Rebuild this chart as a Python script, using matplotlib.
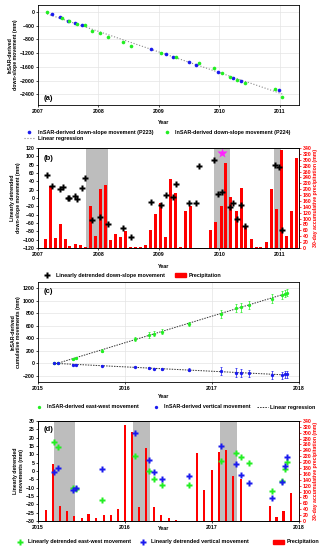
import numpy as np
import matplotlib
matplotlib.use("Agg")
import matplotlib.pyplot as plt
from matplotlib.lines import Line2D
from matplotlib.patches import Patch

plt.rcParams['font.family'] = ['Liberation Sans', 'DejaVu Sans']
plt.rcParams['font.weight'] = 'bold'
plt.rcParams['axes.labelweight'] = 'bold'
plt.rcParams['font.size'] = 3.7
plt.rcParams['axes.linewidth'] = 0.6
plt.rcParams['xtick.major.width'] = 0.5
plt.rcParams['ytick.major.width'] = 0.5
plt.rcParams['xtick.major.size'] = 1.5
plt.rcParams['ytick.major.size'] = 1.5
plt.rcParams['xtick.major.pad'] = 1.5
plt.rcParams['ytick.major.pad'] = 1.0

# (a) InSAR down-slope movement 2007-2011
p223_t = [2007.23, 2007.36, 2007.49, 2007.61, 2007.73, 2008.87, 2009.11, 2009.24,
          2009.50, 2009.62, 2009.98, 2010.23, 2010.36, 2010.99]
p223_v = [-77, -164, -260, -328, -386, -1089, -1224, -1301, -1465, -1542, -1745,
          -1918, -2005, -2284]
p224_t = [2007.15, 2007.40, 2007.52, 2007.65, 2007.78, 2007.90, 2008.03, 2008.15,
          2008.40, 2008.53, 2009.03, 2009.29, 2009.66, 2009.91, 2010.04, 2010.17,
          2010.29, 2010.42, 2010.92, 2011.04]
p224_v = [-10, -193, -280, -366, -386, -559, -627, -723, -887, -983, -1205, -1301,
          -1484, -1629, -1773, -1889, -1985, -2081, -2236, -2467]

# (b) detrended down-slope movement + precipitation
det_t = [2007.15, 2007.23, 2007.36, 2007.41, 2007.49, 2007.52, 2007.61, 2007.65,
         2007.73, 2007.78, 2007.90, 2008.03, 2008.15, 2008.40, 2008.53, 2008.87,
         2009.03, 2009.11, 2009.24, 2009.29, 2009.50, 2009.62, 2009.66, 2009.91,
         2009.98, 2010.04, 2010.17, 2010.23, 2010.29, 2010.36, 2010.42, 2010.92,
         2010.99, 2011.04]
det_v = [54, 28, 22, 26, 0, 0, 4, -2, 24, 48, -52, -46, -62, -73, -93, -10, -16, 6,
         3, 34, -13, -12, 76, 90, 10, 14, -22, -13, -50, -16, -66, 78, 75, -76]
rain_b_t = [2007.11, 2007.19, 2007.28, 2007.36, 2007.44, 2007.52, 2007.61, 2007.69,
            2007.77, 2007.86, 2007.94, 2008.02, 2008.11, 2008.19, 2008.27, 2008.35,
            2008.44, 2008.52, 2008.60, 2008.69, 2008.77, 2008.85, 2008.93, 2009.02,
            2009.10, 2009.18, 2009.27, 2009.35, 2009.43, 2009.52, 2009.85, 2009.93,
            2010.02, 2010.10, 2010.18, 2010.27, 2010.35, 2010.43, 2010.52, 2010.60,
            2010.68, 2010.77, 2010.85, 2010.94, 2011.02, 2011.10, 2011.19, 2011.27]
rain_b = [32, 210, 34, 80, 32, 8, 15, 11, 3, 144, 40, 201, 213, 27, 49, 39, 59, 2, 2,
          2, 9, 62, 116, 153, 37, 233, 187, 3, 125, 142, 61, 87, 142, 290, 175, 127,
          205, 70, 32, 5, 5, 19, 202, 133, 334, 42, 127, 305]
wet_b = [(2007.79, 2008.15), (2009.91, 2010.17), (2010.91, 2011.02)]
star_b = (2010.04, 108)

# (c) cumulative movements 2015-2018
c_t = [2015.18, 2015.23, 2015.40, 2015.44, 2015.73, 2016.11, 2016.28, 2016.33,
       2016.43, 2016.73, 2017.10, 2017.27, 2017.33, 2017.42, 2017.69, 2017.80,
       2017.84, 2017.86]
ew_v = [0, 10, 64, 80, 202, 382, 451, 467, 504, 621, 790, 881, 897, 934, 1034, 1087,
        1114, 1130]
ew_err = [8, 8, 12, 12, 22, 30, 45, 40, 38, 32, 64, 70, 72, 68, 68, 65, 62, 60]
vt_v = [0, 0, -27, -27, -37, -53, -74, -85, -95, -106, -122, -149, -159, -164, -186,
        -191, -180, -180]
vt_err = [5, 5, 8, 8, 10, 14, 14, 14, 16, 25, 60, 65, 68, 62, 60, 58, 62, 62]

# (d) detrended movements + precipitation
ew_det = [17.2, 14.6, -10, -10.8, -17.4, 9.2, 0, -4.6, -8.4, -8.4, 6, 10.6, 8.4, 4.6,
          -12.2, -6, 1, 5.2]
vt_det = [-0.8, 1.8, -11.6, -10, 1.4, 23, 6.6, -0.6, -4.8, -2.8, 14.8, 4, -2.4, -7.2,
          -16.4, -6.6, 2.8, 8.2]
rain_d_t = [2015.09, 2015.17, 2015.25, 2015.33, 2015.41, 2015.50, 2015.58, 2015.67,
            2015.755, 2015.835, 2015.92, 2016.00, 2016.08, 2016.165, 2016.245, 2016.33,
            2016.41, 2016.50, 2016.58, 2016.83, 2016.91, 2017.00, 2017.08, 2017.16,
            2017.24, 2017.33, 2017.66, 2017.74, 2017.82, 2017.905]
rain_d = [38, 193, 52, 34, 17, 9, 24, 9, 19, 19, 40, 326, 301, 48, 249, 48, 20, 11, 3,
          232, 107, 173, 233, 241, 154, 143, 52, 15, 33, 96]
wet_d = [(2015.18, 2015.43), (2016.09, 2016.29), (2017.09, 2017.29)]

GREEN = '#22ee22'
BLUE = '#1a1aee'
RED = '#ff0000'
LEG = 3.9


def leg(handles, labels, x, y, **kw):
    fig.legend(handles, labels, loc='center left', bbox_to_anchor=(x, 1 - y / 550),
               frameon=False, fontsize=LEG, handlelength=2.0, handletextpad=0.5,
               borderpad=0, **kw)


fig = plt.figure(figsize=(3.28, 5.5), dpi=100)
L, W = 0.116, 0.796

# ---------- (a)
ax = fig.add_axes([L, 0.809, W, 0.182])
ax.grid(True, color='#e4e4e4', lw=0.5)
ax.set_axisbelow(True)
all_t = np.array(p223_t + p224_t)
all_v = np.array(p223_v + p224_v)
k, b0 = np.polyfit(all_t, all_v, 1)
xx = np.array([min(all_t), max(all_t)])
ax.plot(xx, k * xx + b0, ls=':', color='#888888', lw=0.8)
ax.plot(p223_t, p223_v, 'o', color=BLUE, ms=2.6, mec='none')
ax.plot(p224_t, p224_v, 'o', color=GREEN, ms=2.6, mec='none')
ax.set_xlim(2007, 2011.32)
ax.set_ylim(-2710, 200)
ax.set_xticks([2007, 2008, 2009, 2010, 2011])
ax.set_yticks(range(-2400, 1, 400))
ax.set_ylabel('InSAR-derived\ndown-slope movement (mm)', labelpad=1)
ax.text(0.02, 0.05, '(a)', transform=ax.transAxes, fontsize=5.5, weight='bold')
fig.text(0.5, 1 - 123 / 550, 'Year', ha='center', va='center', fontsize=3.9)
h = [Line2D([], [], marker='o', ls='', color=BLUE, ms=2.6, mec='none'),
     Line2D([], [], ls=':', color='#888888', lw=0.8),
     Line2D([], [], marker='o', ls='', color=GREEN, ms=2.6, mec='none')]
fig.legend(h, ['InSAR-derived down-slope movement (P223)', 'Linear regression',
               'InSAR-derived down-slope movement (P224)'],
           loc='upper left', bbox_to_anchor=(0.065, 1 - 127 / 550), ncol=2,
           frameon=False, fontsize=LEG, handlelength=2.0, handletextpad=0.5,
           columnspacing=1.6, labelspacing=0.25, borderpad=0)

# ---------- (b)
ax = fig.add_axes([L, 0.549, W, 0.182])
ax2 = ax.twinx()
ax.set_zorder(ax2.get_zorder() + 1)
ax.patch.set_visible(False)
for a0, a1 in wet_b:
    ax2.axvspan(a0, a1, color='#bdbdbd', lw=0)
ax2.vlines(rain_b_t, 0, rain_b, color=RED, lw=1.0, antialiased=False)
ax.plot(det_t, det_v, 'P', color='black', ms=4.4, mec='none')
ax.plot(*star_b, marker='*', color='#ff22ff', ms=7, mec='none')
ax.set_xlim(2007, 2011.32)
ax.set_ylim(-120, 120)
ax.set_yticks(range(-120, 121, 20))
ax.set_xticks([2007, 2008, 2009, 2010, 2011])
ax2.set_ylim(0, 340)
ax2.set_yticks(range(0, 341, 20))
ax2.tick_params(axis='y', colors=RED)
ax2.spines['right'].set_color(RED)
ax2.set_ylabel('30-day accumulative precipitation (mm)', color=RED, rotation=90,
               labelpad=1)
ax.set_ylabel('Linearly detrended\ndown-slope movement (mm)', labelpad=1)
ax.text(0.02, 0.88, '(b)', transform=ax.transAxes, fontsize=5.5, weight='bold')
fig.text(0.5, 1 - 267 / 550, 'Year', ha='center', va='center', fontsize=3.9)
leg([Line2D([], [], marker='P', ls='', color='black', ms=4.4, mec='none')],
    ['Linearly detrended down-slope movement'], 0.12, 275)
leg([Patch(color=RED)], ['Precipitation'], 0.525, 275)

# ---------- (c)
ax = fig.add_axes([L, 0.3055, W, 0.182])
ax.grid(True, color='#e4e4e4', lw=0.5)
ax.set_axisbelow(True)
ct = np.array(c_t)
for vals in (ew_v, vt_v):
    k, b0 = np.polyfit(ct, vals, 1)
    xx = np.array([ct.min(), ct.max()])
    ax.plot(xx, k * xx + b0, ls=(0, (1.5, 1.2)), color='#333333', lw=0.7)
ax.errorbar(c_t, ew_v, yerr=ew_err, fmt='o', color=GREEN, ms=2.4, mec='none',
            elinewidth=0.5, capsize=1, capthick=0.5)
ax.errorbar(c_t, vt_v, yerr=vt_err, fmt='o', color=BLUE, ms=2.4, mec='none',
            elinewidth=0.5, capsize=1, capthick=0.5)
ax.set_xlim(2015, 2018)
ax.set_ylim(-300, 1300)
ax.set_xticks([2015, 2016, 2017, 2018])
ax.set_yticks(range(-200, 1201, 200))
ax.set_ylabel('InSAR-derived\ncumulative movements (mm)', labelpad=1)
ax.text(0.02, 0.89, '(c)', transform=ax.transAxes, fontsize=5.5, weight='bold')
fig.text(0.5, 1 - 397 / 550, 'Year', ha='center', va='center', fontsize=3.9)
leg([Line2D([], [], marker='o', ls='', color=GREEN, ms=2.4, mec='none')],
    ['InSAR-derived east-west movement'], 0.093, 407)
leg([Line2D([], [], marker='o', ls='', color=BLUE, ms=2.4, mec='none')],
    ['InSAR-derived vertical movement'], 0.45, 407)
leg([Line2D([], [], ls=(0, (1.5, 1.2)), color='#333333', lw=0.7)],
    ['Linear regression'], 0.775, 407)

# ---------- (d)
ax = fig.add_axes([L, 0.0527, W, 0.182])
ax2 = ax.twinx()
ax.set_zorder(ax2.get_zorder() + 1)
ax.patch.set_visible(False)
for a0, a1 in wet_d:
    ax2.axvspan(a0, a1, color='#bdbdbd', lw=0)
ax2.bar(rain_d_t, rain_d, width=0.024, color=RED, lw=0)
ax.plot(c_t, ew_det, 'P', color=GREEN, ms=4.4, mec='none')
ax.plot(c_t, vt_det, 'P', color=BLUE, ms=4.4, mec='none')
ax.set_xlim(2015, 2018)
ax.set_ylim(-30, 30)
ax.set_yticks(range(-30, 31, 5))
ax.set_xticks([2015, 2016, 2017, 2018])
ax2.set_ylim(0, 340)
ax2.set_yticks(range(0, 341, 20))
ax2.tick_params(axis='y', colors=RED)
ax2.spines['right'].set_color(RED)
ax2.set_ylabel('30-day accumulative precipitation (mm)', color=RED, rotation=90,
               labelpad=1)
ax.set_ylabel('Linearly detrended\nmovements (mm)', labelpad=1)
ax.text(0.02, 0.9, '(d)', transform=ax.transAxes, fontsize=5.5, weight='bold')
fig.text(0.5, 1 - 529 / 550, 'Year', ha='center', va='center', fontsize=3.9)
leg([Line2D([], [], marker='P', ls='', color=GREEN, ms=4.4, mec='none')],
    ['Linearly detrended east-west movement'], 0.035, 542)
leg([Line2D([], [], marker='P', ls='', color=BLUE, ms=4.4, mec='none')],
    ['Linearly detrended vertical movement'], 0.41, 542)
leg([Patch(color=RED)], ['Precipitation'], 0.825, 542)

fig.savefig('out.png', dpi=100)
